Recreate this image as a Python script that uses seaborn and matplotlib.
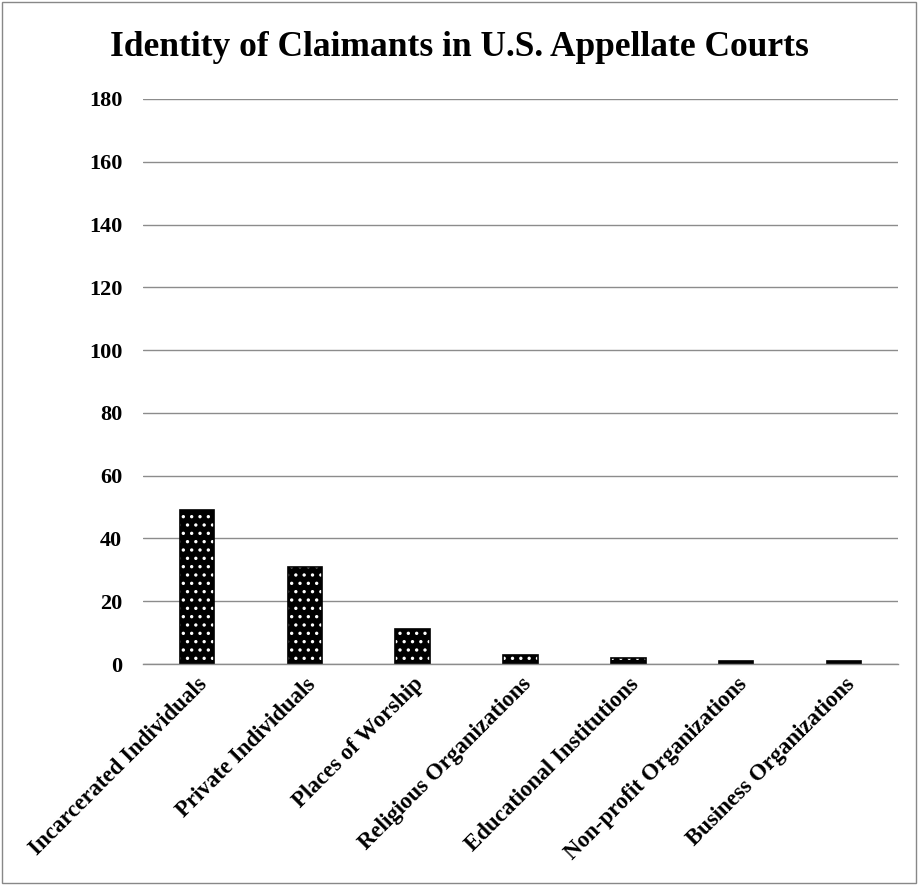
import matplotlib
matplotlib.use("Agg")
import matplotlib.pyplot as plt
import seaborn as sns
import pandas as pd

categories = ["Incarcerated Individuals", "Private Individuals", "Places of Worship",
              "Religious Organizations", "Educational Institutions",
              "Non-profit Organizations", "Business Organizations"]
values = [49, 31, 11, 3, 2, 1, 1]
yticks = [0, 20, 40, 60, 80, 100, 120, 140, 160, 180]
title = "Identity of Claimants in U.S. Appellate Courts"

sns.set_theme(style="white")
plt.rcParams['font.family'] = ['Liberation Serif', 'DejaVu Serif']
plt.rcParams['hatch.linewidth'] = 1.2
plt.rcParams['text.color'] = 'black'
plt.rcParams['xtick.color'] = 'black'
plt.rcParams['ytick.color'] = 'black'
plt.rcParams['xtick.labelcolor'] = 'black'
plt.rcParams['ytick.labelcolor'] = 'black'

df = pd.DataFrame({"cat": categories, "val": values})

fig = plt.figure(figsize=(9.18, 8.85), dpi=100)
ax = fig.add_axes([143/918, 1 - 664/885, (898-143)/918, (664-99)/885])

sns.barplot(data=df, x="cat", y="val", color="black", width=0.32, ax=ax,
            saturation=1, edgecolor="white", linewidth=0)
for p in ax.patches:
    p.set_hatch("..")
    p.set_edgecolor("white")
    outline = plt.Rectangle(p.get_xy(), p.get_width(), p.get_height(),
                            fill=False, edgecolor="black", linewidth=1.2, zorder=p.get_zorder() + 0.1)
    ax.add_patch(outline)

ax.set_ylim(0, 180)
ax.set_xlim(-0.5, len(categories) - 0.5)
ax.set_yticks(yticks)
ax.set_yticklabels([str(t) for t in yticks], fontsize=16, fontweight="bold", color="black")
ax.yaxis.grid(True, color="#8c8c8c", linewidth=1)
ax.set_axisbelow(True)
ax.tick_params(axis="y", length=0, pad=15)
ax.tick_params(axis="x", length=0, pad=7)
ax.set_xticks(range(len(categories)))
ax.set_xticklabels(categories, rotation=45, ha="right", rotation_mode="anchor",
                   fontsize=16.5, fontweight="bold", color="black")
ax.set_xlabel("")
ax.set_ylabel("")
for s in ["left", "right", "top"]:
    ax.spines[s].set_visible(False)
ax.spines["bottom"].set_color("#8c8c8c")
ax.spines["bottom"].set_linewidth(1)

fig.text(0.5, 1 - 48/885, title, ha="center", va="center", fontsize=25.5,
         fontweight="bold", color="black")

border = plt.Rectangle((0.002, 0.002), 0.996, 0.996, transform=fig.transFigure,
                       fill=False, edgecolor="#888888", linewidth=1)
fig.patches.append(border)

fig.savefig("out.png", dpi=100)
